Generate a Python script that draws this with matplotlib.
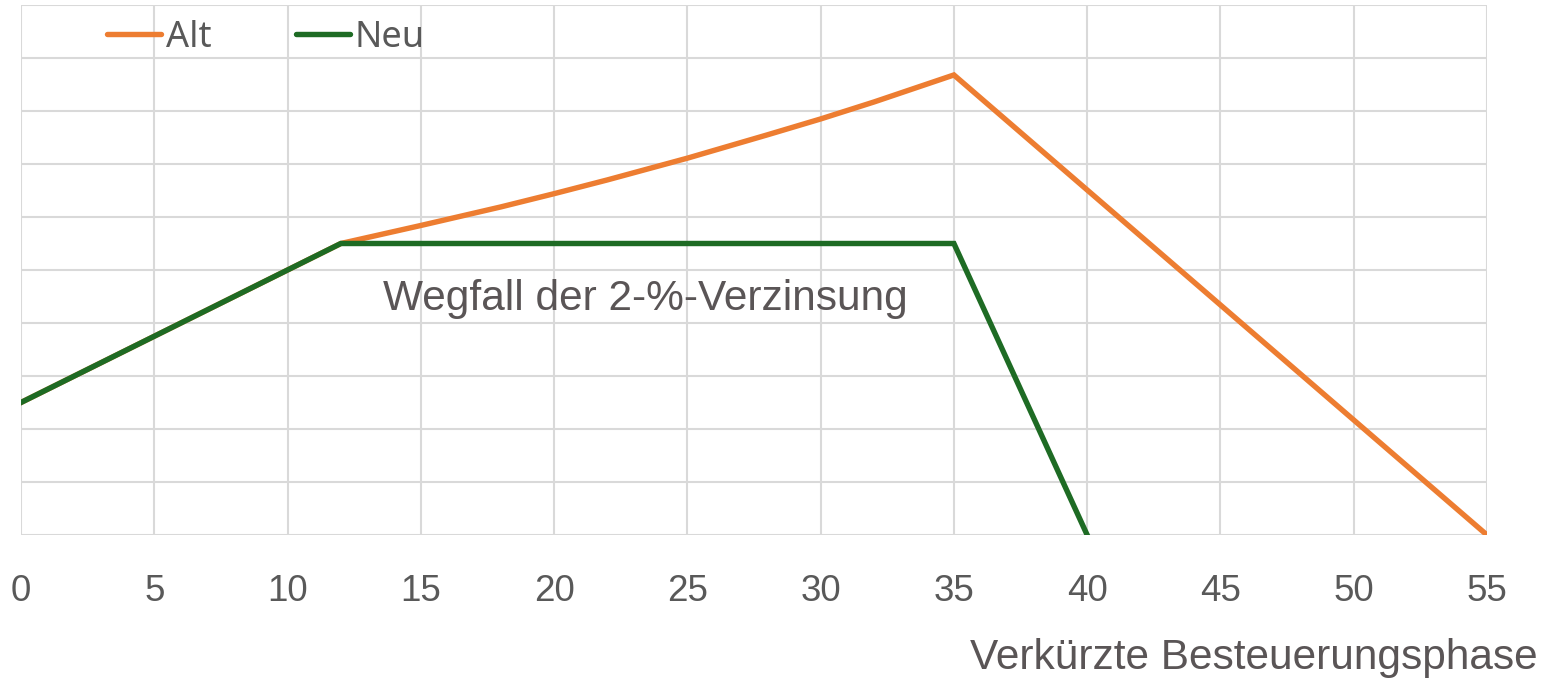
import matplotlib
matplotlib.use("Agg")
import matplotlib.pyplot as plt

# Data
alt_x = [0, 12, 15, 18, 20, 22, 25, 28, 30, 32, 35, 55]
alt_y = [2.5, 5.5, 5.84, 6.19, 6.44, 6.70, 7.11, 7.55, 7.85, 8.17, 8.68, 0.0]
neu_x = [0, 12, 35, 40]
neu_y = [2.5, 5.5, 5.5, 0.0]
x_ticks = [0, 5, 10, 15, 20, 25, 30, 35, 40, 45, 50, 55]
series_names = ["Alt", "Neu"]
annotation = "Wegfall der 2-%-Verzinsung"
x_label = "Verkürzte Besteuerungsphase"

W, H = 1546, 682
fig = plt.figure(figsize=(W / 100, H / 100), dpi=100)
ax = fig.add_axes([21 / W, 1 - 535 / H, (1487 - 21) / W, (535 - 5) / H])

text_color = "#595959"
grid_color = "#d9d9d9"
orange = "#ED7D31"
green = "#1E6B24"

l1, = ax.plot(alt_x, alt_y, color=orange, lw=3.9, solid_joinstyle="miter", zorder=3, label=series_names[0])
l2, = ax.plot(neu_x, neu_y, color=green, lw=3.9, solid_joinstyle="miter", zorder=4, label=series_names[1])

ax.set_xlim(0, 55)
ax.set_ylim(0, 10)
ax.set_xticks(x_ticks)
ax.set_yticks(range(0, 11))
ax.set_yticklabels([])
ax.grid(True, color=grid_color, lw=1.5, zorder=0)
ax.set_axisbelow(True)
for s in ax.spines.values():
    s.set_visible(False)
ax.tick_params(axis="both", length=0)
ax.tick_params(axis="x", pad=28, labelsize=26.5, labelcolor=text_color)
for lab in ax.get_xticklabels():
    lab.set_fontfamily("Liberation Sans")

ax.text(23.41, 4.45, annotation, ha="center", va="center", fontsize=30.5,
        color="#5a5556", family="Liberation Sans", zorder=5)

fig.text(1538 / W, 1 - 658 / H, x_label, ha="right", va="center", fontsize=30.5,
         color="#5a5556", family="Liberation Sans")

leg = fig.legend(handles=[l1, l2], loc="center left", bbox_to_anchor=(107 / W, 1 - 38 / H),
                 ncol=2, frameon=False, fontsize=26, handlelength=1.5, handletextpad=0.12,
                 columnspacing=2.35, borderpad=0, borderaxespad=0)
for t in leg.get_texts():
    t.set_color(text_color)
    t.set_fontfamily("Noto Sans")
for h in leg.legend_handles:
    h.set_solid_capstyle("round")

fig.savefig("out.png", dpi=100)
